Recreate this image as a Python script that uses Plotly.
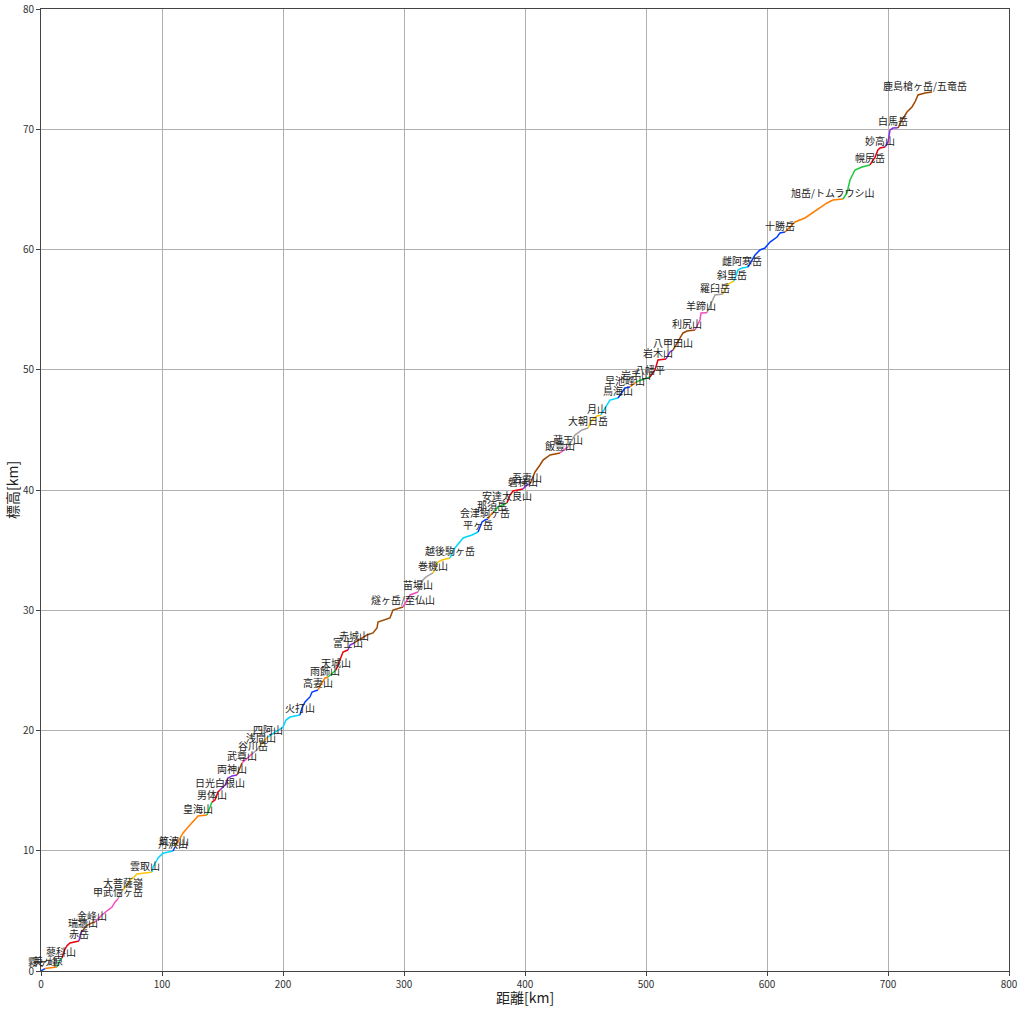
import plotly.graph_objects as go

# Mountain names (one per segment, label placed at the summit of each segment)
names = [
    "霧ヶ峰", "美ヶ原", "蓼科山", "赤岳", "瑞牆山", "金峰山", "甲武信ヶ岳", "大菩薩嶺", "雲取山", "丹沢山",
    "筑波山", "皇海山", "男体山", "日光白根山", "両神山", "武尊山", "谷川岳", "浅間山", "四阿山", "火打山",
    "高妻山", "雨飾山", "天城山", "富士山", "赤城山", "燧ヶ岳/至仏山", "苗場山", "巻機山", "越後駒ヶ岳", "平ヶ岳",
    "会津駒ヶ岳", "那須岳", "安達太良山", "磐梯山", "吾妻山", "飯豊山", "蔵王山", "大朝日岳", "月山", "鳥海山",
    "早池峰山", "岩手山", "八幡平", "岩木山", "八甲田山", "利尻山", "羊蹄山", "羅臼岳", "斜里岳", "雌阿寒岳",
    "十勝岳", "旭岳/トムラウシ山", "幌尻岳", "妙高山", "白馬岳", "鹿島槍ヶ岳/五竜岳",
]

# Cumulative distance [km] of each segment
dist = [
    [0, 2, 3.3],
    [3.3, 6, 9, 13.2],
    [13.2, 14.9, 16.2, 17.4],
    [17.4, 19.5, 21.5, 24, 31.4],
    [31.4, 33, 34.7],
    [34.7, 38, 42, 44.6],
    [44.6, 50.4, 55.4, 58.7, 61.2, 63.6],
    [63.6, 65.5, 67.8],
    [67.8, 71, 73.6, 76.9, 79.3, 86, 91.7],
    [91.7, 92.6, 95.9, 96.7, 100.8, 109.1],
    [109.1, 110, 110.7],
    [110.7, 114.9, 117.4, 123.1, 127.3, 129.8, 137.2],
    [137.2, 139.7, 141.3],
    [141.3, 143.8, 146.3, 147.9],
    [147.9, 152.1, 154.5, 157.9, 162],
    [162, 164.5, 166.1],
    [166.1, 170.2, 172.7, 175.2],
    [175.2, 178.5, 181.8],
    [181.8, 184.3, 187.6],
    [187.6, 190.1, 194.2, 200, 202.5, 205.8, 214],
    [214, 215.7, 218.2, 222.3, 224, 228.9],
    [228.9, 232.2, 234.7, 237.2],
    [237.2, 240.5, 243.8],
    [243.8, 247.1, 249.6, 253.7],
    [253.7, 255.4, 258.7],
    [258.7, 265.3, 269.4, 274.4, 277.7, 278.5, 284.3, 288.4, 290.9, 299.2],
    [299.2, 302.5, 305, 311.6],
    [311.6, 315.7, 318.2, 321.5, 324],
    [324, 328.1, 331.4, 338],
    [338, 342.1, 348.8, 356.2, 361.2],
    [361.2, 364.5, 367, 369.4],
    [369.4, 372.7, 374.4],
    [374.4, 377.7, 385.1],
    [385.1, 387.6, 390.1, 398.3],
    [398.3, 401.7, 404.1],
    [404.1, 408.3, 412.4, 414.9, 420.7, 428.9],
    [428.9, 433.1, 435.5],
    [435.5, 438.8, 441.3, 447.1, 452.1],
    [452.1, 455.4, 459.5, 462.8],
    [462.8, 466.1, 470.2, 476.9],
    [476.9, 482.6, 486.8],
    [486.8, 489.3, 491.7],
    [491.7, 496.7, 503.3],
    [503.3, 507.4, 509.9, 516.5],
    [516.5, 519.8, 522.3],
    [522.3, 528.1, 530.6, 533.9, 540.5],
    [540.5, 544.6, 545.5, 550.4],
    [550.4, 554.5, 557, 563.6],
    [563.6, 566.9, 571.1, 572.7],
    [572.7, 576, 579.3, 584.3],
    [584.3, 590.1, 594.2, 598.3, 602.5, 608.3, 610.7, 614.9],
    [614.9, 623.1, 631.4, 637.2, 643.8, 649.6, 654.5, 662.8],
    [662.8, 666.1, 668.6, 672.7, 678.5, 685.1],
    [685.1, 689.3, 691.7, 693.4, 697.5],
    [697.5, 700, 701.7, 704.1, 708.3],
    [708.3, 711.6, 715.7, 719.8, 722.3, 724.8, 730.6, 736.4],
]

# Cumulative climb [km] of each segment
elev = [
    [0, 0.15, 0.2],
    [0.2, 0.25, 0.3, 0.33],
    [0.33, 0.75, 1.0, 1.08],
    [1.08, 1.75, 2.1, 2.33, 2.5],
    [2.5, 3.2, 3.41],
    [3.41, 3.8, 4.0, 4.07],
    [4.07, 4.66, 5.07, 5.32, 5.74, 5.99],
    [5.99, 6.4, 6.74],
    [6.74, 7.24, 7.57, 7.82, 8.07, 8.15, 8.23],
    [8.23, 8.65, 9.23, 9.4, 9.8, 9.98],
    [9.98, 10.2, 10.31],
    [10.31, 11.06, 11.48, 12.14, 12.56, 12.89, 12.97],
    [12.97, 13.64, 14.05],
    [14.05, 14.22, 14.89, 15.05],
    [15.05, 15.47, 16.05, 16.22, 16.3],
    [16.3, 16.88, 17.3],
    [17.3, 17.71, 17.96, 18.13],
    [18.13, 18.38, 18.79],
    [18.79, 19.13, 19.46],
    [19.46, 19.63, 19.96, 20.29, 20.87, 21.12, 21.29],
    [21.29, 21.87, 22.37, 22.79, 23.2, 23.37],
    [23.37, 23.95, 24.37, 24.45],
    [24.45, 24.78, 25.03],
    [25.03, 25.86, 26.53, 26.69],
    [26.69, 27.11, 27.28],
    [27.28, 27.69, 27.94, 28.11, 28.52, 29.02, 29.19, 29.36, 30.02, 30.27],
    [30.27, 30.85, 31.27, 31.52],
    [31.52, 32.52, 32.77, 32.93, 33.1],
    [33.1, 34.01, 34.18, 34.35],
    [34.35, 35.18, 36.01, 36.26, 36.51],
    [36.51, 37.34, 37.51, 37.59],
    [37.59, 38.09, 38.17],
    [38.17, 38.59, 38.92],
    [38.92, 39.58, 39.92, 40.08],
    [40.08, 40.42, 40.5],
    [40.5, 41.5, 42.08, 42.49, 42.91, 43.08],
    [43.08, 43.41, 43.58],
    [43.58, 44.16, 44.57, 44.99, 45.16],
    [45.16, 45.82, 46.15, 46.24],
    [46.24, 46.82, 47.48, 47.65],
    [47.65, 48.48, 48.57],
    [48.57, 48.82, 48.98],
    [48.98, 49.15, 49.4],
    [49.4, 49.98, 50.81, 50.89],
    [50.89, 51.48, 51.64],
    [51.64, 52.72, 53.06, 53.22, 53.31],
    [53.31, 54.14, 54.72, 54.75],
    [54.75, 55.63, 56.22, 56.3],
    [56.3, 57.05, 57.3, 57.38],
    [57.38, 58.3, 58.46, 58.54],
    [58.54, 59.54, 59.96, 60.12, 60.62, 61.04, 61.37, 61.46],
    [61.46, 62.29, 62.62, 63.04, 63.45, 63.87, 64.12, 64.2],
    [64.2, 64.7, 65.78, 66.61, 66.86, 67.03],
    [67.03, 67.69, 68.27, 68.44, 68.52],
    [68.52, 68.94, 69.94, 70.1, 70.12],
    [70.12, 70.77, 71.43, 71.85, 72.27, 72.85, 73.01, 73.1],
]

x_ticks = [0, 100, 200, 300, 400, 500, 600, 700, 800]
y_ticks = [0, 10, 20, 30, 40, 50, 60, 70, 80]

palette = ["#023eff", "#ff7c00", "#1ac938", "#e8000b", "#8b2be2",
           "#9f4800", "#f14cc1", "#a3a3a3", "#ffc400", "#00d7ff"]

FONT = "Noto Sans CJK JP"

fig = go.Figure()
annotations = []
for i, (name, xs, ys) in enumerate(zip(names, dist, elev)):
    fig.add_trace(go.Scatter(x=xs, y=ys, mode="lines", name=name,
                             line=dict(color=palette[i % len(palette)], width=1.5),
                             showlegend=False, hoverinfo="name"))
    top = max(ys)
    k = next(j for j, v in enumerate(ys) if v >= top - 0.12)
    annotations.append(dict(x=xs[k], y=ys[k], text=name, showarrow=False,
                            xanchor="center", yanchor="bottom", yshift=-2,
                            font=dict(family=FONT, size=10, color="#222")))

# axis titles
annotations.append(dict(xref="paper", yref="paper", x=0.5, y=0, yshift=-26,
                        xanchor="center", yanchor="middle", showarrow=False,
                        text="距離[km]", font=dict(family=FONT, size=14, color="#222")))
annotations.append(dict(xref="paper", yref="paper", x=0, y=0.5, xshift=-29,
                        xanchor="center", yanchor="middle", showarrow=False, textangle=-90,
                        text="標高[km]", font=dict(family=FONT, size=14, color="#222")))

axis_common = dict(showgrid=True, gridcolor="#b0b0b0", gridwidth=0.8,
                   showline=True, linecolor="#444", linewidth=1, mirror=True,
                   ticks="outside", ticklen=4, tickcolor="#444",
                   tickfont=dict(family=FONT, size=10, color="#333"),
                   zeroline=False, automargin=False)

fig.update_layout(
    width=1024, height=1010,
    margin=dict(l=41, r=15, t=9, b=39, autoexpand=False),
    plot_bgcolor="white", paper_bgcolor="white",
    annotations=annotations,
    xaxis=dict(range=[0, 800], tickvals=x_ticks, ticktext=[str(v) for v in x_ticks],
               **axis_common),
    yaxis=dict(range=[0, 80], tickvals=y_ticks, ticktext=[str(v) for v in y_ticks],
               **axis_common),
)

fig.write_html("out.html", config={"displayModeBar": False},
               post_script="document.body.style.margin='0';document.body.style.padding='0';")
